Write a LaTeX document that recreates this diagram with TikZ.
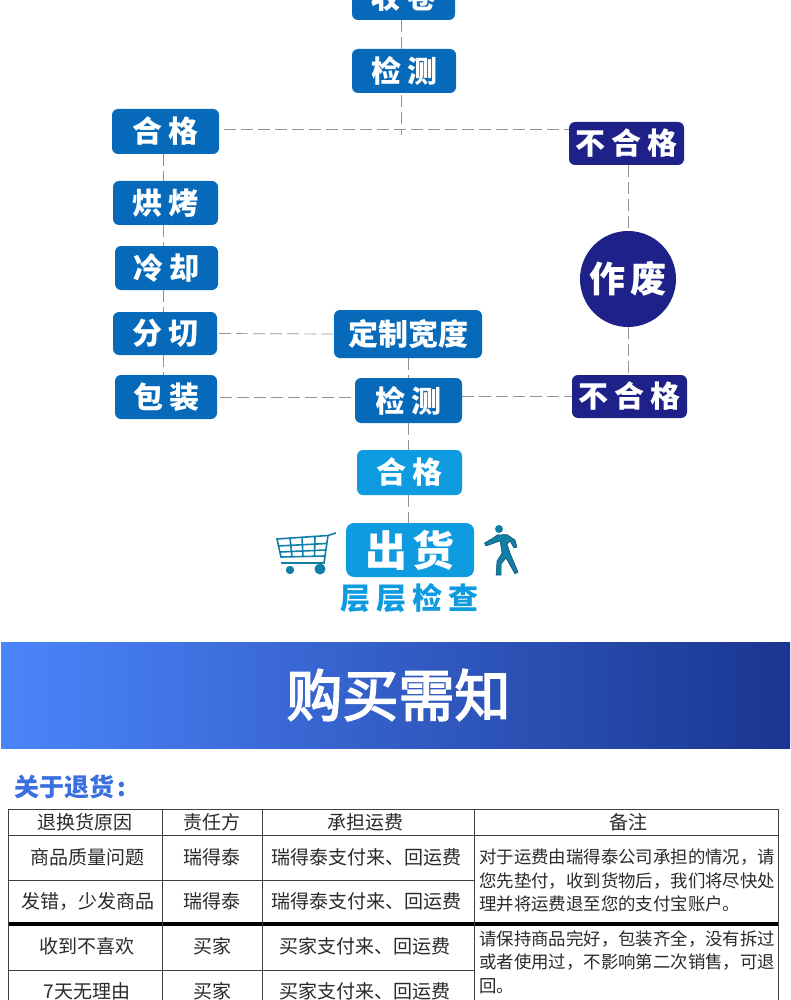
\documentclass[tikz,border=0pt]{standalone}
\usepackage{fontspec}
\newfontfamily\cjk{Noto Sans CJK SC}
\newfontfamily\cjktitle[FakeBold=3]{Noto Sans CJK SC}
\definecolor{bluebox}{HTML}{0669B9}
\definecolor{darkbox}{HTML}{1E2188}
\definecolor{lightbox}{HTML}{0F9BE0}
\definecolor{iconcol}{HTML}{117FA5}
\definecolor{bandl}{HTML}{4B85FB}
\definecolor{bandr}{HTML}{1A3590}
\definecolor{headcol}{HTML}{3A6FE0}
\definecolor{tabtxt}{HTML}{2A2A2A}
\tikzset{
  flow/.style={rectangle,rounded corners=6pt,text=white,inner sep=0pt,font=\cjk\bfseries\fontsize{30}{30}\selectfont},
  bluenode/.style={flow,fill=bluebox},
  darknode/.style={flow,fill=darkbox},
  lightnode/.style={flow,fill=lightbox},
  dashline/.style={draw=gray!85,line width=.7pt,dash pattern=on 12pt off 5pt},
  cell/.style={inner sep=0pt,text=tabtxt,font=\cjk\fontsize{19}{19}\selectfont},
  note/.style={inner sep=0pt,anchor=north west,align=left,text=tabtxt,font=\cjk\fontsize{17.4}{23.5}\selectfont},
  tline/.style={draw=black!75,line width=.8pt},
  iconline/.style={draw=iconcol,line width=1.6pt}
}
\begin{document}
\begin{tikzpicture}[x=1pt,y=-1pt]
\useasboundingbox (0,0) rectangle (790,1000);
\clip (0,0) rectangle (790,1000);
\fill[white] (0,0) rectangle (790,1000);
% flow nodes
\node[bluenode,minimum width=103pt,minimum height=46pt] (shou) at (403.5,-3) {收\hspace{6pt}卷};
\node[bluenode,minimum width=104pt,minimum height=44pt] (jc1) at (404,71) {检\hspace{6pt}测};
\node[bluenode,minimum width=107pt,minimum height=45pt] (hg1) at (165.5,131.5) {合\hspace{6pt}格};
\node[darknode,minimum width=115pt,minimum height=43pt] (bhg1) at (626.5,143.5) {不\hspace{6pt}合\hspace{6pt}格};
\node[bluenode,minimum width=105pt,minimum height=44pt] (hk) at (165.5,203) {烘\hspace{6pt}烤};
\node[bluenode,minimum width=103pt,minimum height=44pt] (lq) at (166.5,268) {冷\hspace{6pt}却};
\node[bluenode,minimum width=104pt,minimum height=43pt] (fq) at (165,333.5) {分\hspace{6pt}切};
\node[bluenode,minimum width=102pt,minimum height=44pt] (bz) at (166,397) {包\hspace{6pt}装};
\node[bluenode,minimum width=148pt,minimum height=48pt] (dz) at (408,334) {定制宽度};
\node[bluenode,minimum width=107pt,minimum height=45pt] (jc2) at (408.5,400.5) {检\hspace{6pt}测};
\node[darknode,minimum width=115pt,minimum height=43pt] (bhg2) at (629.5,396.5) {不\hspace{6pt}合\hspace{6pt}格};
\node[lightnode,minimum width=105pt,minimum height=45pt] (hg2) at (409.5,472.5) {合\hspace{6pt}格};
\node[lightnode,rounded corners=8pt,minimum width=128pt,minimum height=54pt,font=\cjk\bfseries\fontsize{42}{42}\selectfont] (ch) at (410,550) {出\hspace{6pt}货};
\node[circle,fill=darkbox,text=white,minimum size=96pt,inner sep=0pt,font=\cjk\bfseries\fontsize{36}{36}\selectfont] (zf) at (628,279) {作\hspace{6pt}废};
\node[inner sep=0pt,text=lightbox,font=\cjk\bfseries\fontsize{30}{30}\selectfont] (cc) at (409,598) {层\hspace{6pt}层\hspace{6pt}检\hspace{6pt}查};
% connector helpers
\coordinate (a1) at (401.5,0);
\coordinate (j1) at (401.5,129);
\coordinate (j1end) at (401.5,135);
\coordinate (a2) at (163.5,0);
\coordinate (a3) at (628.5,0);
\coordinate (a4) at (408.5,0);
% connectors
\draw[dashline] (shou.south -| a1) -- (jc1.north -| a1);
\draw[dashline] ([yshift=-2pt]jc1.south -| a1) -- (j1end);
\draw[dashline] ([xshift=5pt]hg1.east |- j1) -- (bhg1.north west |- j1);
\draw[dashline] (hg1.south -| a2) -- (hk.north -| a2);
\draw[dashline] (hk.south -| a2) -- (lq.north -| a2);
\draw[dashline] (lq.south -| a2) -- (fq.north -| a2);
\draw[dashline] (fq.south -| a2) -- (bz.north -| a2);
\draw[dashline] (bhg1.south -| a3) -- (zf.north -| a3);
\draw[dashline] (zf.south -| a3) -- (bhg2.north -| a3);
\draw[dashline] ([xshift=2pt]fq.east) -- (dz.west);
\draw[dashline] ([xshift=3pt]bz.east) -- (jc2.west |- bz);
\draw[dashline] (jc2.east |- bhg2) -- (bhg2.west);
\draw[dashline] (dz.south -| a4) -- (jc2.north -| a4);
\draw[dashline] (jc2.south -| a4) -- (hg2.north -| a4);
\draw[dashline] (hg2.south -| a4) -- (ch.north -| a4);
% cart
\draw[iconline] (336,533) -- (328,535.5) -- (277,539) -- (281,557) -- (325,556);
\draw[iconline] (328,535.5) -- (324,563) -- (281,563);
\draw[iconline] (278,546) -- (326.5,543.5);
\draw[iconline] (280,552) -- (325.5,550);
\draw[iconline] (290,538) -- (292,557);
\draw[iconline] (302,537) -- (303,556.5);
\draw[iconline] (315,536.5) -- (314.5,556);
\fill[iconcol] (290,570) circle (4.2pt);
\fill[iconcol] (320,569) circle (5.5pt);
% walker
\fill[iconcol] (499,529) circle (4pt);
\filldraw[fill=iconcol,draw=iconcol!60!black,line width=.5pt,line join=round]
 (497,535) -- (507,534.5) -- (515,540) -- (517,547) -- (514,548) -- (510,541) -- (507,544) -- (510,553) -- (518,572) -- (515,574) -- (506,558) -- (501,564) -- (501,575) -- (496,575) -- (497,561) -- (502,553) -- (500,541) -- (486,546) -- (484.5,543) -- (493,538) -- cycle;
% band
\shade[left color=bandl,right color=bandr] (1,642) rectangle (790,748);
\node[inner sep=0pt,text=white,font=\cjktitle\fontsize{56}{56}\selectfont] (title) at (398.5,695) {购买需知};
\node[inner sep=0pt,anchor=west,text=headcol,font=\cjk\bfseries\fontsize{25}{25}\selectfont] (sub) at (14,787) {关于退货\hspace{3pt}:};
% table
\draw[tline] (8,809) -- (778,809);
\draw[tline] (8,835) -- (778,835);
\draw[tline] (8,880) -- (474,880);
\draw[tline] (8,970) -- (474,970);
\draw[black,line width=4pt] (8,924) -- (778,924);
\foreach \x in {8,162,262,474,778} \draw[tline] (\x,809) -- (\x,1000);
\node[cell] (h1) at (85,822) {退换货原因};
\node[cell] (h2) at (212,822) {责任方};
\node[cell] (h3) at (365,822) {承担运费};
\node[cell] (h4) at (628,822) {备注};
\node[cell] (r11) at (87,857) {商品质量问题};
\node[cell] (r12) at (212,857) {瑞得泰};
\node[cell] (r13) at (366,857) {瑞得泰支付来、回运费};
\node[cell] (r21) at (88,901) {发错，少发商品};
\node[cell] (r22) at (212,901) {瑞得泰};
\node[cell] (r23) at (366,901) {瑞得泰支付来、回运费};
\node[cell] (r31) at (87,946) {收到不喜欢};
\node[cell] (r32) at (212,946) {买家};
\node[cell] (r33) at (365,946) {买家支付来、回运费};
\node[cell] (r41) at (87,991) {7天无理由};
\node[cell] (r42) at (212,991) {买家};
\node[cell] (r43) at (365,991) {买家支付来、回运费};
\node[note] (n1) at (479,849) {对于运费由瑞得泰公司承担的情况，请\\您先垫付，收到货物后，我们将尽快处\\理并将运费退至您的支付宝账户。};
\node[note] (n2) at (479,930) {请保持商品完好，包装齐全，没有拆过\\或者使用过，不影响第二次销售，可退\\回。};
\end{tikzpicture}
\end{document}
